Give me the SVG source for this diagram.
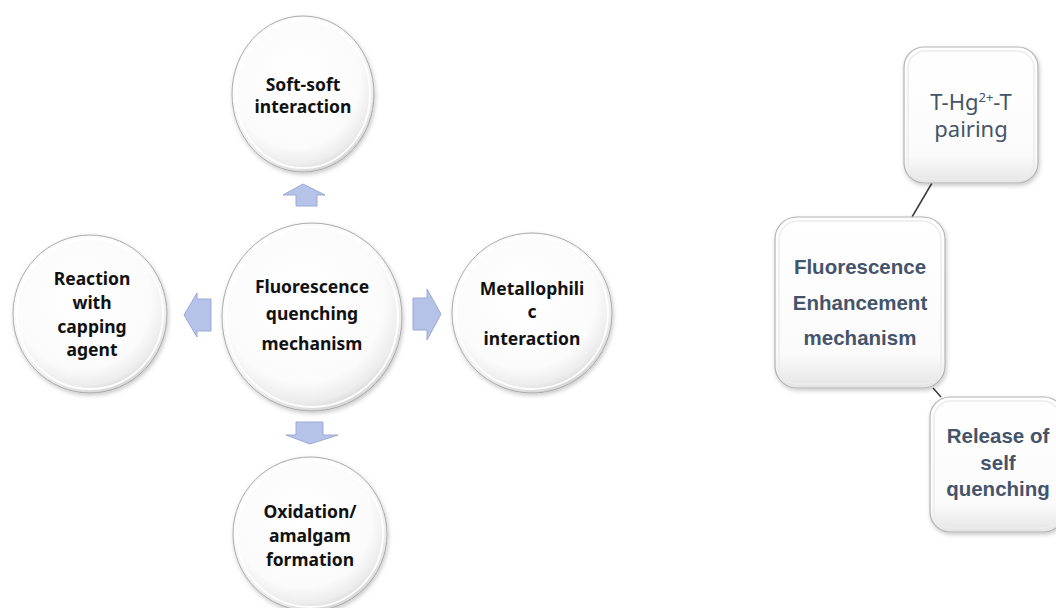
<svg xmlns="http://www.w3.org/2000/svg" width="1056" height="608" viewBox="0 0 1056 608">
<defs>
<radialGradient id="ball" cx="45%" cy="40%" r="60%">
<stop offset="0" stop-color="#ffffff"/>
<stop offset="0.75" stop-color="#fbfbfb"/>
<stop offset="0.92" stop-color="#ececec"/>
<stop offset="1" stop-color="#d8d8d8"/>
</radialGradient>
<linearGradient id="boxg" x1="0" y1="0" x2="0" y2="1">
<stop offset="0" stop-color="#ffffff"/>
<stop offset="0.8" stop-color="#fbfbfb"/>
<stop offset="1" stop-color="#e4e4e4"/>
</linearGradient>
<filter id="sh" x="-20%" y="-20%" width="140%" height="140%">
<feDropShadow dx="1" dy="2" stdDeviation="2" flood-color="#000" flood-opacity="0.22"/>
</filter>
</defs>
<style>
.ball{fill:url(#ball);stroke:#a9a9a9;stroke-width:1;filter:url(#sh)}
.ring{fill:none;stroke:#ffffff;stroke-width:2;opacity:0.9}
.box{fill:url(#boxg);stroke:#b3b3b3;stroke-width:1.2;filter:url(#sh)}
.inner{fill:none;stroke:#ececec;stroke-width:1.5}
.arr{fill:#b6c2e8;stroke:#9aa9d8;stroke-width:1}
.ct{font-family:"Comic Sans MS","Noto Sans",sans-serif;font-weight:bold;font-size:17.5px;fill:#111;text-anchor:middle}
.bt{font-family:"Liberation Sans",Arial,sans-serif;font-weight:bold;font-size:20.5px;fill:#44546a;text-anchor:middle}
.tt{font-family:"Comic Sans MS","Noto Sans",sans-serif;font-size:22px;fill:#44546a;text-anchor:middle}
.sup{font-size:13px}
.ln{stroke:#3a3a3a;stroke-width:1.5;fill:none}
</style>
<rect width="1056" height="608" fill="#ffffff"/>

<g id="connectors">
<polygon class="arr" points="296,206 296,195 283,195 303,184 325,195 317,195 317,206"/>
<polygon class="arr" points="296,422 323,422 323,435 338,435 310,444 286,435 296,435"/>
<polygon class="arr" points="211,299 211,331 197,331 197,337 184,315 197,293 197,299"/>
<polygon class="arr" points="413,298 427,298 427,289 441,314 427,340 427,330 413,330"/>
<line class="ln" x1="932" y1="183" x2="912" y2="217"/>
<line class="ln" x1="933" y1="388" x2="941" y2="397"/>
</g>

<g id="node-center">
<ellipse class="ball" cx="312" cy="317" rx="90" ry="94"/>
<ellipse class="ring" cx="312" cy="317" rx="86" ry="90"/>
<text class="ct"><tspan x="312" y="293">Fluorescence</tspan><tspan x="312" y="320">quenching</tspan><tspan x="312" y="350">mechanism</tspan></text>
</g>

<g id="node-top">
<ellipse class="ball" cx="303" cy="94" rx="71" ry="78"/>
<ellipse class="ring" cx="303" cy="94" rx="67" ry="74"/>
<text class="ct"><tspan x="303" y="91">Soft-soft</tspan><tspan x="303" y="113">interaction</tspan></text>
</g>

<g id="node-left">
<ellipse class="ball" cx="90" cy="314" rx="77" ry="79"/>
<ellipse class="ring" cx="90" cy="314" rx="73" ry="75"/>
<text class="ct"><tspan x="92" y="285">Reaction</tspan><tspan x="92" y="309">with</tspan><tspan x="92" y="333">capping</tspan><tspan x="92" y="356">agent</tspan></text>
</g>

<g id="node-right">
<ellipse class="ball" cx="532" cy="313" rx="80" ry="80"/>
<ellipse class="ring" cx="532" cy="313" rx="76" ry="76"/>
<text class="ct"><tspan x="532" y="295">Metallophili</tspan><tspan x="532" y="318">c</tspan><tspan x="532" y="345">interaction</tspan></text>
</g>

<g id="node-bottom">
<ellipse class="ball" cx="310" cy="534" rx="77" ry="77"/>
<ellipse class="ring" cx="310" cy="534" rx="73" ry="73"/>
<text class="ct"><tspan x="310" y="518">Oxidation/</tspan><tspan x="310" y="542">amalgam</tspan><tspan x="310" y="566">formation</tspan></text>
</g>

<g id="node-thg">
<rect class="box" x="904" y="47" width="134" height="136" rx="20"/>
<rect class="inner" x="908" y="51" width="126" height="128" rx="17"/>
<text class="tt" x="971" y="110">T-Hg<tspan class="sup" dy="-8">2+</tspan><tspan dy="8">-T</tspan></text>
<text class="tt" x="971" y="137">pairing</text>
</g>

<g id="node-enh">
<rect class="box" x="775" y="217" width="170" height="171" rx="22"/>
<rect class="inner" x="779" y="221" width="162" height="163" rx="19"/>
<text class="bt"><tspan x="860" y="274">Fluorescence</tspan><tspan x="860" y="310">Enhancement</tspan><tspan x="860" y="345">mechanism</tspan></text>
</g>

<g id="node-release">
<rect class="box" x="930" y="397" width="134" height="135" rx="20"/>
<rect class="inner" x="934" y="401" width="126" height="127" rx="17"/>
<text class="bt"><tspan x="998" y="443">Release of</tspan><tspan x="998" y="470">self</tspan><tspan x="998" y="496">quenching</tspan></text>
</g>
</svg>
